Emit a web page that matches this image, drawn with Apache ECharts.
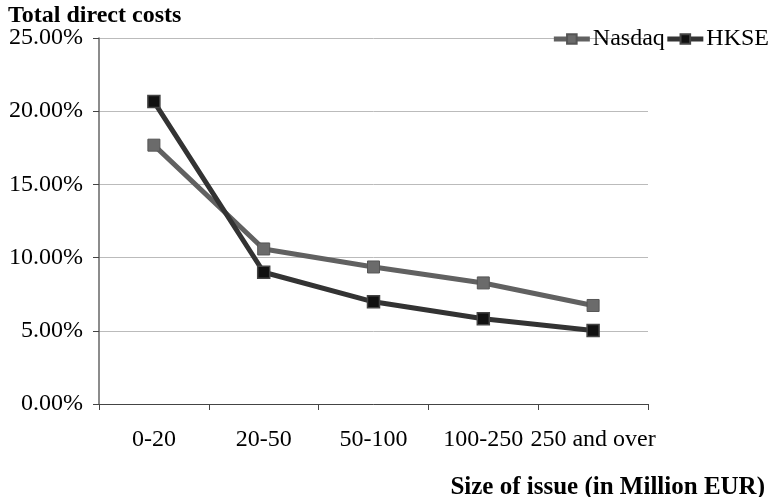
<!DOCTYPE html>
<html><head><meta charset="utf-8">
<script src="https://cdn.jsdelivr.net/npm/echarts@6/dist/echarts.min.js"></script>
<style>html,body{margin:0;padding:0;background:#fff}#c{width:776px;height:497px}</style>
</head><body><div id="c"></div>
<script>
const categories = ['0-20', '20-50', '50-100', '100-250', '250 and over'];
const nasdaq = [17.68, 10.59, 9.36, 8.27, 6.73];
const hkse = [20.66, 9.0, 6.98, 5.82, 5.02];
const seriesNames = ['Nasdaq', 'HKSE'];
const titleText = 'Total direct costs';
const xName = 'Size of issue (in Million EUR)';

const serif = '"Liberation Serif", "DejaVu Serif", serif';
const chart = echarts.init(document.getElementById('c'));
chart.setOption({
  animation: false,
  backgroundColor: '#fff',
  title: [
    { text: titleText, left: 3, top: -1, textStyle: { fontFamily: serif, fontWeight: 'bold', fontSize: 24, color: '#000' } },
    { text: xName, right: 6, top: 470, textStyle: { fontFamily: serif, fontWeight: 'bold', fontSize: 25, color: '#000' } }
  ],
  legend: {
    right: 2, top: 22, itemGap: 0, itemWidth: 36, itemHeight: 12,
    lineStyle: { width: 5 },
    textStyle: { fontFamily: serif, fontSize: 24, color: '#000', padding: [0, 0, 0, -2] },
    data: seriesNames
  },
  grid: { left: 99, right: 128, top: 38, bottom: 93 },
  xAxis: {
    type: 'category', data: categories, boundaryGap: true,
    axisLine: { lineStyle: { color: '#444', width: 1 } },
    axisTick: { show: true, length: 6, lineStyle: { color: '#444' } },
    axisLabel: { fontFamily: serif, fontSize: 24, color: '#000', margin: 24, interval: 0 }
  },
  yAxis: {
    type: 'value', min: 0, max: 25, interval: 5,
    axisLine: { show: true, lineStyle: { color: '#666', width: 1.5 } },
    axisTick: { show: true, length: 6, inside: false, lineStyle: { color: '#444' } },
    splitLine: { lineStyle: { color: '#bbb', width: 1 } },
    axisLabel: { fontFamily: serif, fontSize: 24, color: '#000', margin: 16, formatter: v => v.toFixed(2) + '%' }
  },
  series: [
    { name: seriesNames[0], type: 'line', data: nasdaq, symbol: 'rect', symbolSize: 12,
      lineStyle: { color: '#616161', width: 5 },
      itemStyle: { color: '#6b6b6b', borderColor: '#555', borderWidth: 1 } },
    { name: seriesNames[1], type: 'line', data: hkse, symbol: 'rect', symbolSize: 12,
      lineStyle: { color: '#333', width: 5 },
      itemStyle: { color: '#111', borderColor: '#444', borderWidth: 1.5 } }
  ]
});
</script></body></html>
